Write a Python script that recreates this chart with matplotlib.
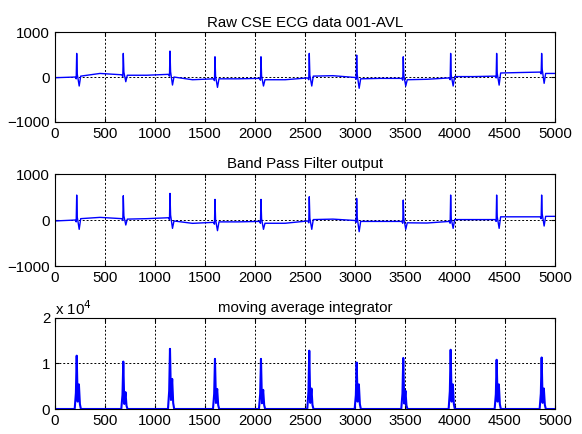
import matplotlib
matplotlib.use("Agg")
import matplotlib.pyplot as plt
from matplotlib.ticker import FuncFormatter

# R-peak sample positions (same beats in all three panels)
r_pos = [217, 683, 1150, 1600, 2060, 2543, 3017, 3483, 3957, 4417, 4867]

# Raw ECG: R amplitude, S trough, baseline before / after each beat, mid-interval baseline
raw_r = [526, 526, 578, 451, 451, 526, 489, 451, 526, 526, 526]
raw_s = [-200, -104, -178, -230, -200, -200, -250, -200, -200, -180, -140]
raw_pre = [0, 50, 60, -40, -30, -20, -10, -30, -20, 20, 110]
raw_post = [20, 40, 0, -40, -60, 20, -40, -60, 10, 90, 80]
raw_mid = [80, 40, -60, -40, -60, 30, -30, -50, 10, 100]
raw_start, raw_end = -15, 80

# Band pass filter output
bp_r = [543, 528, 579, 449, 449, 506, 470, 434, 543, 543, 543]
bp_s = [-202, -108, -181, -231, -202, -202, -253, -202, -181, -181, -130]
bp_pre = [0, 30, 50, -50, -30, -20, -10, -30, -30, 10, 70]
bp_post = [30, 20, -20, -40, -70, 10, -30, -60, 10, 70, 80]
bp_mid = [58, 30, -72, -40, -70, 20, -30, -65, 10, 70]
bp_start, bp_end = -20, 80

# Moving average integrator: main and secondary peak heights
mai_main = [11700, 10400, 13200, 11000, 11000, 12800, 10200, 11200, 13000, 10800, 11300]
mai_second = [5400, 3700, 6600, 4400, 4200, 4500, 5400, 4000, 5400, 5400, 4500]

# sample offsets of the QRS vertices relative to the R peak
qrs_off = [-15, -5, 0, 6, 25, 40]
mai_off = [-20, -8, 0, 10, 22, 32, 42]


def ecg_trace(r_amp, s_amp, pre, post, mid, start, end):
    xs, ys = [0], [start]
    for i, r in enumerate(r_pos):
        xs += [r + o for o in qrs_off]
        ys += [pre[i], pre[i] - 40, r_amp[i], pre[i] + 60, s_amp[i], post[i]]
        if i < len(mid):
            xs.append((r + r_pos[i + 1]) / 2)
            ys.append(mid[i])
    xs.append(5000)
    ys.append(end)
    return xs, ys


def mai_trace():
    xs, ys = [0], [0]
    for i, r in enumerate(r_pos):
        xs += [r + o for o in mai_off]
        ys += [0, mai_main[i] * 0.3, mai_main[i], mai_second[i] * 0.3,
               mai_second[i], mai_second[i] * 0.2, 0]
    xs.append(5000)
    ys.append(0)
    return xs, ys


def style_axes(ax, title):
    ax.set_xlim(0, 5000)
    ax.set_xticks(range(0, 5001, 500))
    ax.grid(True, color="black", linestyle=(0, (2, 2)), linewidth=0.7)
    ax.tick_params(direction="in", length=3, labelsize=10.8,
                   top=True, right=True)
    for s in ax.spines.values():
        s.set_linewidth(0.8)
    ax.set_title(title, fontsize=10.8, pad=4)


plt.rcParams["font.family"] = ["Liberation Sans", "DejaVu Sans"]
fig = plt.figure(figsize=(5.82, 4.34), dpi=100)

ax1 = fig.add_axes([0.0945, 0.719, 0.859, 0.207])
x, y = ecg_trace(raw_r, raw_s, raw_pre, raw_post, raw_mid, raw_start, raw_end)
ax1.plot(x, y, color="blue", linewidth=1)
ax1.set_ylim(-1000, 1000)
ax1.set_yticks([-1000, 0, 1000])
style_axes(ax1, "Raw CSE ECG data 001-AVL")

ax2 = fig.add_axes([0.0945, 0.387, 0.859, 0.212])
x, y = ecg_trace(bp_r, bp_s, bp_pre, bp_post, bp_mid, bp_start, bp_end)
ax2.plot(x, y, color="blue", linewidth=1)
ax2.set_ylim(-1000, 1000)
ax2.set_yticks([-1000, 0, 1000])
style_axes(ax2, "Band Pass Filter output")

ax3 = fig.add_axes([0.0945, 0.0576, 0.859, 0.21])
x, y = mai_trace()
ax3.plot(x, y, color="blue", linewidth=1.5)
ax3.set_ylim(0, 20000)
ax3.set_yticks([0, 10000, 20000])
ax3.yaxis.set_major_formatter(FuncFormatter(lambda v, p: f"{v / 1e4:g}"))
style_axes(ax3, "moving average integrator")
ax3.text(0, 1.03, r"x 10$^{4}$", transform=ax3.transAxes, fontsize=10.8)

fig.savefig("out.png", dpi=100)
